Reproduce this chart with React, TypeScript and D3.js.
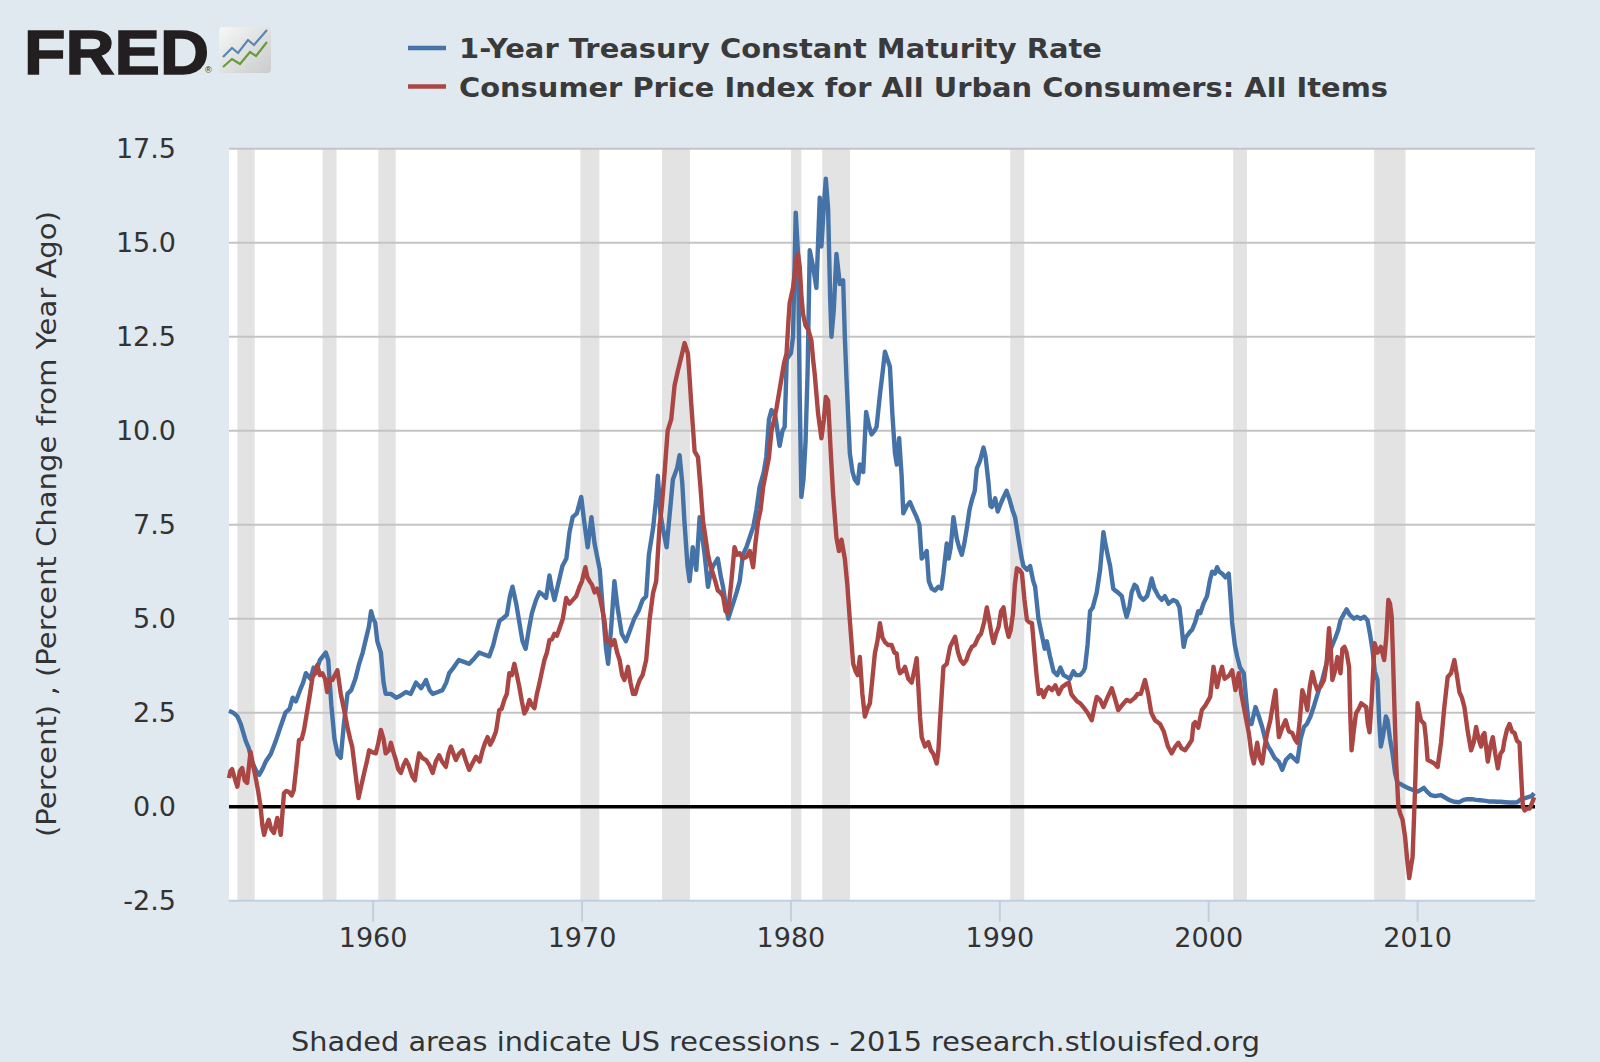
import React, { useEffect, useRef } from 'react'
import * as d3 from 'd3'

const width = 1600
const height = 1062

const legendLabels = [
    '1-Year Treasury Constant Maturity Rate',
    'Consumer Price Index for All Urban Consumers: All Items',
]
const seriesColors = ['#4572a7', '#aa4643']
const yTicks = [-2.5, 0, 2.5, 5, 7.5, 10, 12.5, 15, 17.5]
const xTicks = [1960, 1970, 1980, 1990, 2000, 2010]
const yTitle = '(Percent) , (Percent Change from Year Ago)'
const footer = 'Shaded areas indicate US recessions - 2015 research.stlouisfed.org'

// NBER recessions, decimal years
const recessions: [number, number][] = [
    [1953.5, 1954.33], [1957.58, 1958.25], [1960.25, 1961.08], [1969.92, 1970.83],
    [1973.83, 1975.17], [1980.0, 1980.5], [1981.5, 1982.83], [1990.5, 1991.17],
    [2001.17, 2001.83], [2007.92, 2009.42],
]

// 1-Year Treasury Constant Maturity Rate (percent)
const treasury: [number, number][] = [
    [1953.1, 2.55], [1953.3, 2.5], [1953.5, 2.4], [1953.66, 2.2], [1953.9, 1.75], [1954.05, 1.55], [1954.2, 1.2], [1954.4, 0.95], [1954.55, 0.85], [1954.7, 1.0], [1954.86, 1.2],
    [1955.1, 1.4], [1955.34, 1.75], [1955.55, 2.1], [1955.8, 2.5], [1956.0, 2.6], [1956.15, 2.9], [1956.3, 2.8], [1956.5, 3.1], [1956.65, 3.3], [1956.78, 3.55], [1957.0, 3.4],
    [1957.15, 3.7], [1957.25, 3.55], [1957.45, 3.9], [1957.73, 4.1], [1957.85, 3.9], [1958.0, 2.7], [1958.15, 1.8], [1958.3, 1.4], [1958.45, 1.3], [1958.6, 2.2], [1958.77, 3.0],
    [1958.95, 3.1], [1959.15, 3.4], [1959.33, 3.8], [1959.5, 4.1], [1959.65, 4.45], [1959.8, 4.8], [1959.9, 5.2], [1960.0, 5.0], [1960.1, 4.9], [1960.2, 4.4], [1960.37, 4.1],
    [1960.5, 3.3], [1960.6, 3.0], [1960.85, 3.0], [1961.1, 2.9], [1961.3, 2.95], [1961.57, 3.05], [1961.8, 3.0], [1962.05, 3.3], [1962.3, 3.15], [1962.53, 3.37], [1962.7, 3.1],
    [1962.85, 3.0], [1963.1, 3.05], [1963.32, 3.1], [1963.5, 3.3], [1963.64, 3.55], [1963.85, 3.7], [1964.1, 3.9], [1964.35, 3.85], [1964.6, 3.8], [1964.85, 3.95], [1965.08, 4.1],
    [1965.3, 4.05], [1965.56, 4.0], [1965.75, 4.3], [1965.88, 4.6], [1966.05, 4.95], [1966.2, 5.0], [1966.4, 5.1], [1966.55, 5.6], [1966.67, 5.85], [1966.85, 5.4], [1967.0, 4.9],
    [1967.15, 4.4], [1967.3, 4.2], [1967.45, 4.7], [1967.6, 5.15], [1967.8, 5.5], [1967.96, 5.7], [1968.1, 5.65], [1968.28, 5.55], [1968.44, 6.15], [1968.55, 5.8], [1968.68, 5.5],
    [1968.85, 5.9], [1969.06, 6.4], [1969.25, 6.6], [1969.4, 7.3], [1969.55, 7.7], [1969.75, 7.8], [1969.96, 8.24], [1970.1, 7.6], [1970.27, 6.9], [1970.45, 7.7], [1970.6, 7.0],
    [1970.85, 6.3], [1971.0, 5.2], [1971.15, 4.2], [1971.25, 3.8], [1971.4, 4.8], [1971.55, 6.0], [1971.7, 5.3], [1971.9, 4.6], [1972.1, 4.4], [1972.3, 4.7], [1972.5, 5.0],
    [1972.7, 5.2], [1972.9, 5.5], [1973.07, 5.6], [1973.2, 6.7], [1973.4, 7.4], [1973.55, 8.2], [1973.63, 8.8], [1973.75, 7.8], [1973.87, 7.4], [1974.05, 6.9], [1974.2, 7.8],
    [1974.35, 8.7], [1974.55, 9.0], [1974.67, 9.35], [1974.8, 8.6], [1974.9, 7.6], [1975.05, 6.4], [1975.15, 6.0], [1975.3, 6.9], [1975.47, 6.3], [1975.63, 7.7], [1975.75, 7.2],
    [1975.87, 6.7], [1976.03, 5.85], [1976.15, 6.2], [1976.27, 6.4], [1976.5, 6.6], [1976.65, 6.1], [1976.75, 5.85], [1976.9, 5.3], [1977.0, 5.0], [1977.23, 5.4], [1977.4, 5.7],
    [1977.55, 6.0], [1977.7, 6.7], [1977.87, 6.9], [1978.05, 7.2], [1978.2, 7.45], [1978.35, 7.9], [1978.5, 8.5], [1978.7, 8.9], [1978.82, 9.3], [1978.95, 10.3], [1979.07, 10.55],
    [1979.25, 10.4], [1979.46, 9.6], [1979.6, 10.0], [1979.7, 10.1], [1979.8, 11.9], [1980.0, 12.06], [1980.1, 12.5], [1980.23, 15.8], [1980.34, 14.7], [1980.42, 11.0], [1980.5, 8.24],
    [1980.6, 8.7], [1980.7, 9.7], [1980.8, 11.6], [1980.9, 14.8], [1981.06, 14.36], [1981.22, 13.8], [1981.38, 16.2], [1981.46, 14.9], [1981.58, 16.0], [1981.67, 16.7], [1981.78, 15.9],
    [1981.88, 13.5], [1981.94, 12.5], [1982.05, 13.2], [1982.18, 14.7], [1982.34, 13.9], [1982.5, 14.0], [1982.58, 12.5], [1982.66, 11.4], [1982.82, 9.4], [1982.95, 8.9], [1983.06, 8.7],
    [1983.2, 8.6], [1983.3, 9.1], [1983.46, 8.9], [1983.6, 10.5], [1983.75, 10.1], [1983.86, 9.9], [1984.0, 10.0], [1984.1, 10.1], [1984.27, 11.0], [1984.4, 11.6], [1984.5, 12.1],
    [1984.62, 11.9], [1984.74, 11.7], [1984.85, 10.5], [1984.98, 9.4], [1985.07, 9.1], [1985.18, 9.8], [1985.3, 8.8], [1985.38, 7.8], [1985.55, 8.0], [1985.7, 8.1], [1985.85, 7.9],
    [1986.02, 7.7], [1986.15, 7.5], [1986.26, 6.6], [1986.4, 6.7], [1986.5, 6.8], [1986.6, 6.0], [1986.74, 5.8], [1986.9, 5.75], [1987.06, 5.85], [1987.2, 5.8], [1987.3, 6.2],
    [1987.46, 7.0], [1987.55, 6.6], [1987.65, 6.9], [1987.78, 7.7], [1987.94, 7.13], [1988.05, 6.9], [1988.18, 6.7], [1988.3, 7.0], [1988.42, 7.4], [1988.55, 7.9], [1988.66, 8.15],
    [1988.8, 8.4], [1988.9, 9.0], [1989.05, 9.2], [1989.22, 9.55], [1989.32, 9.3], [1989.46, 8.6], [1989.55, 8.0], [1989.62, 7.97], [1989.78, 8.2], [1989.9, 7.85], [1990.0, 8.0],
    [1990.15, 8.2], [1990.32, 8.4], [1990.45, 8.2], [1990.6, 7.9], [1990.73, 7.7], [1990.9, 7.1], [1991.05, 6.6], [1991.13, 6.4], [1991.3, 6.3], [1991.45, 6.4], [1991.6, 6.0],
    [1991.69, 5.85], [1991.85, 5.0], [1992.0, 4.6], [1992.15, 4.2], [1992.25, 4.4], [1992.4, 4.0], [1992.57, 3.6], [1992.75, 3.5], [1992.9, 3.7], [1993.05, 3.5], [1993.2, 3.45],
    [1993.35, 3.4], [1993.52, 3.6], [1993.65, 3.5], [1993.84, 3.5], [1994.0, 3.6], [1994.08, 3.7], [1994.2, 4.3], [1994.32, 5.2], [1994.45, 5.3], [1994.64, 5.7], [1994.8, 6.3],
    [1994.96, 7.3], [1995.05, 7.0], [1995.2, 6.6], [1995.28, 6.4], [1995.43, 5.8], [1995.5, 5.76], [1995.65, 5.7], [1995.84, 5.6], [1995.95, 5.3], [1996.07, 5.05], [1996.2, 5.3],
    [1996.31, 5.7], [1996.45, 5.9], [1996.55, 5.85], [1996.7, 5.6], [1996.87, 5.5], [1997.05, 5.6], [1997.15, 5.8], [1997.27, 6.07], [1997.4, 5.8], [1997.5, 5.7], [1997.59, 5.6],
    [1997.75, 5.5], [1997.9, 5.6], [1998.08, 5.4], [1998.3, 5.5], [1998.47, 5.45], [1998.6, 5.3], [1998.7, 4.8], [1998.8, 4.25], [1998.9, 4.5], [1999.1, 4.65], [1999.2, 4.7],
    [1999.35, 4.9], [1999.5, 5.2], [1999.6, 5.15], [1999.75, 5.4], [1999.92, 5.6], [2000.05, 6.0], [2000.16, 6.25], [2000.3, 6.2], [2000.4, 6.37], [2000.5, 6.25], [2000.64, 6.2],
    [2000.8, 6.1], [2000.96, 6.2], [2001.05, 5.5], [2001.12, 4.9], [2001.25, 4.3], [2001.36, 4.0], [2001.5, 3.7], [2001.68, 3.55], [2001.8, 2.8], [2001.92, 2.2], [2002.05, 2.2],
    [2002.24, 2.65], [2002.4, 2.4], [2002.56, 2.12], [2002.7, 1.8], [2002.85, 1.6], [2002.96, 1.5], [2003.15, 1.3], [2003.35, 1.2], [2003.52, 0.98], [2003.7, 1.25], [2003.92, 1.37],
    [2004.05, 1.3], [2004.24, 1.2], [2004.4, 1.8], [2004.56, 2.12], [2004.7, 2.2], [2004.87, 2.4], [2005.05, 2.7], [2005.27, 3.1], [2005.45, 3.4], [2005.68, 3.9], [2005.85, 4.2],
    [2006.07, 4.5], [2006.2, 4.7], [2006.31, 4.96], [2006.45, 5.1], [2006.6, 5.25], [2006.75, 5.1], [2006.95, 5.0], [2007.1, 5.05], [2007.27, 5.0], [2007.45, 5.05], [2007.6, 4.96],
    [2007.72, 4.6], [2007.84, 4.17], [2007.95, 3.6], [2008.08, 3.37], [2008.16, 2.3], [2008.24, 1.6], [2008.35, 1.9], [2008.48, 2.4], [2008.56, 2.3], [2008.68, 1.8], [2008.8, 1.42],
    [2008.92, 0.9], [2009.04, 0.63], [2009.2, 0.6], [2009.35, 0.55], [2009.52, 0.5], [2009.75, 0.45], [2010.0, 0.4], [2010.15, 0.45], [2010.3, 0.5], [2010.45, 0.4], [2010.63, 0.31],
    [2010.85, 0.28], [2011.1, 0.31], [2011.3, 0.25], [2011.5, 0.18], [2011.74, 0.13], [2012.0, 0.12], [2012.2, 0.18], [2012.38, 0.2], [2012.6, 0.2], [2012.8, 0.18], [2013.0, 0.17],
    [2013.18, 0.16], [2013.4, 0.14], [2013.6, 0.14], [2013.8, 0.13], [2013.98, 0.13], [2014.2, 0.12], [2014.4, 0.11], [2014.6, 0.11], [2014.78, 0.12], [2014.95, 0.2], [2015.1, 0.22],
    [2015.26, 0.25], [2015.45, 0.28], [2015.58, 0.36],
]

// CPI all items, percent change from year ago
const cpi: [number, number][] = [
    [1953.1, 0.76], [1953.17, 0.95], [1953.25, 1.0], [1953.35, 0.8], [1953.5, 0.53], [1953.62, 0.95], [1953.73, 1.03], [1953.85, 0.7], [1953.97, 0.63], [1954.13, 1.46], [1954.25, 1.1],
    [1954.37, 0.79], [1954.5, 0.4], [1954.61, 0.0], [1954.7, -0.5], [1954.78, -0.75], [1954.9, -0.5], [1955.0, -0.35], [1955.12, -0.6], [1955.25, -0.7], [1955.41, -0.3], [1955.5, -0.5],
    [1955.58, -0.75], [1955.73, 0.36], [1955.85, 0.42], [1955.97, 0.39], [1956.1, 0.3], [1956.2, 0.44], [1956.35, 1.2], [1956.45, 1.77], [1956.58, 1.8], [1956.69, 2.04], [1956.85, 2.57],
    [1956.95, 2.9], [1957.1, 3.45], [1957.22, 3.55], [1957.33, 3.77], [1957.45, 3.5], [1957.57, 3.55], [1957.7, 3.4], [1957.8, 3.05], [1957.92, 3.4], [1958.05, 3.37], [1958.17, 3.5],
    [1958.29, 3.63], [1958.45, 3.0], [1958.6, 2.6], [1958.77, 2.12], [1958.9, 1.8], [1959.0, 1.59], [1959.15, 0.9], [1959.3, 0.23], [1959.45, 0.6], [1959.57, 0.9], [1959.7, 1.2],
    [1959.81, 1.5], [1959.95, 1.45], [1960.13, 1.42], [1960.25, 1.7], [1960.37, 2.04], [1960.5, 1.8], [1960.6, 1.42], [1960.75, 1.5], [1960.85, 1.7], [1960.97, 1.45], [1961.09, 1.24],
    [1961.2, 1.0], [1961.33, 0.9], [1961.45, 1.1], [1961.57, 1.24], [1961.7, 1.1], [1961.88, 0.8], [1962.0, 0.7], [1962.1, 1.1], [1962.2, 1.42], [1962.35, 1.3], [1962.53, 1.24],
    [1962.7, 1.1], [1962.85, 0.9], [1963.0, 1.2], [1963.16, 1.37], [1963.3, 1.2], [1963.48, 1.06], [1963.6, 1.4], [1963.72, 1.6], [1963.85, 1.4], [1963.96, 1.24], [1964.1, 1.4],
    [1964.28, 1.5], [1964.45, 1.2], [1964.6, 0.98], [1964.75, 1.15], [1964.92, 1.33], [1965.1, 1.2], [1965.24, 1.5], [1965.36, 1.7], [1965.48, 1.85], [1965.6, 1.65], [1965.72, 1.77],
    [1965.88, 2.0], [1966.04, 2.57], [1966.15, 2.6], [1966.28, 2.84], [1966.4, 3.0], [1966.52, 3.55], [1966.64, 3.5], [1966.76, 3.8], [1966.88, 3.5], [1967.0, 3.18], [1967.12, 2.8],
    [1967.24, 2.48], [1967.36, 2.6], [1967.48, 2.84], [1967.6, 2.7], [1967.72, 2.62], [1967.84, 3.0], [1967.96, 3.28], [1968.08, 3.6], [1968.2, 3.9], [1968.32, 4.1], [1968.44, 4.43],
    [1968.56, 4.45], [1968.68, 4.6], [1968.8, 4.55], [1968.92, 4.74], [1969.08, 5.0], [1969.24, 5.55], [1969.4, 5.4], [1969.56, 5.5], [1969.72, 5.6], [1969.88, 5.85], [1970.0, 6.0],
    [1970.16, 6.37], [1970.26, 6.1], [1970.36, 6.0], [1970.48, 5.9], [1970.6, 5.7], [1970.72, 5.8], [1970.85, 5.57], [1970.95, 5.3], [1971.07, 4.96], [1971.18, 4.4], [1971.3, 4.43],
    [1971.42, 4.3], [1971.55, 4.43], [1971.68, 4.1], [1971.8, 3.9], [1971.92, 3.5], [1972.03, 3.37], [1972.1, 3.5], [1972.2, 3.72], [1972.32, 3.3], [1972.44, 3.0], [1972.55, 3.0],
    [1972.65, 3.2], [1972.76, 3.37], [1972.9, 3.5], [1973.07, 3.9], [1973.23, 4.96], [1973.4, 5.68], [1973.55, 6.0], [1973.71, 7.45], [1973.82, 8.0], [1973.95, 8.87], [1974.1, 10.0],
    [1974.27, 10.3], [1974.43, 11.2], [1974.59, 11.6], [1974.75, 11.96], [1974.91, 12.33], [1975.07, 12.05], [1975.15, 11.4], [1975.23, 10.7], [1975.39, 9.45], [1975.55, 9.3], [1975.67, 8.5],
    [1975.79, 7.6], [1975.9, 7.2], [1976.03, 6.7], [1976.15, 6.4], [1976.27, 6.2], [1976.38, 6.0], [1976.5, 5.75], [1976.62, 5.7], [1976.75, 5.6], [1976.87, 5.2], [1976.99, 5.15],
    [1977.15, 6.0], [1977.3, 6.9], [1977.42, 6.7], [1977.55, 6.74], [1977.7, 6.6], [1977.87, 6.64], [1978.03, 6.8], [1978.19, 6.37], [1978.3, 7.0], [1978.43, 7.6], [1978.55, 7.9],
    [1978.67, 8.5], [1978.83, 8.95], [1978.95, 9.3], [1979.07, 10.0], [1979.2, 10.3], [1979.31, 10.6], [1979.43, 11.0], [1979.55, 11.4], [1979.67, 11.8], [1979.79, 12.05], [1979.88, 12.9],
    [1979.94, 13.4], [1980.1, 13.8], [1980.26, 14.55], [1980.34, 14.7], [1980.42, 14.36], [1980.5, 13.6], [1980.58, 13.1], [1980.7, 12.8], [1980.82, 12.7], [1980.98, 12.4], [1981.06, 11.9],
    [1981.14, 11.5], [1981.3, 10.46], [1981.46, 9.8], [1981.58, 10.3], [1981.67, 10.9], [1981.78, 10.8], [1981.9, 9.5], [1982.02, 8.3], [1982.18, 7.15], [1982.3, 6.8], [1982.42, 7.1],
    [1982.58, 6.6], [1982.7, 5.9], [1982.82, 4.96], [1982.98, 3.8], [1983.1, 3.6], [1983.2, 3.5], [1983.3, 3.98], [1983.42, 3.0], [1983.54, 2.4], [1983.66, 2.6], [1983.78, 2.75],
    [1983.9, 3.4], [1984.02, 4.08], [1984.14, 4.4], [1984.26, 4.88], [1984.38, 4.5], [1984.5, 4.38], [1984.66, 4.3], [1984.82, 4.3], [1984.95, 4.1], [1985.06, 4.08], [1985.14, 3.7],
    [1985.22, 3.55], [1985.34, 3.6], [1985.46, 3.72], [1985.62, 3.4], [1985.78, 3.3], [1985.9, 3.6], [1986.02, 3.95], [1986.1, 3.2], [1986.18, 2.4], [1986.26, 1.85], [1986.42, 1.6],
    [1986.58, 1.72], [1986.7, 1.5], [1986.82, 1.4], [1986.98, 1.15], [1987.06, 1.5], [1987.14, 2.3], [1987.3, 3.72], [1987.46, 3.8], [1987.62, 4.25], [1987.75, 4.4], [1987.86, 4.52],
    [1988.0, 4.1], [1988.12, 3.9], [1988.26, 3.8], [1988.4, 3.9], [1988.52, 4.1], [1988.66, 4.25], [1988.8, 4.3], [1988.98, 4.52], [1989.1, 4.6], [1989.25, 4.9], [1989.38, 5.3],
    [1989.48, 5.0], [1989.6, 4.6], [1989.7, 4.35], [1989.82, 4.6], [1989.94, 4.78], [1990.06, 5.2], [1990.18, 5.3], [1990.3, 4.8], [1990.42, 4.52], [1990.52, 4.7], [1990.63, 5.13],
    [1990.72, 5.9], [1990.82, 6.34], [1990.94, 6.3], [1991.06, 6.2], [1991.18, 5.5], [1991.3, 4.96], [1991.42, 4.9], [1991.54, 4.88], [1991.66, 4.1], [1991.76, 3.5], [1991.86, 3.0],
    [1991.98, 3.1], [1992.1, 2.92], [1992.22, 3.1], [1992.34, 3.18], [1992.5, 3.1], [1992.66, 3.23], [1992.82, 3.0], [1992.98, 3.18], [1993.15, 3.25], [1993.3, 3.3], [1993.42, 3.0],
    [1993.52, 2.92], [1993.7, 2.8], [1993.85, 2.75], [1994.0, 2.65], [1994.2, 2.5], [1994.4, 2.3], [1994.55, 2.7], [1994.64, 2.92], [1994.8, 2.84], [1994.96, 2.65], [1995.15, 2.9],
    [1995.36, 3.15], [1995.5, 2.9], [1995.67, 2.57], [1995.85, 2.7], [1996.07, 2.84], [1996.25, 2.8], [1996.47, 2.9], [1996.6, 3.0], [1996.75, 3.0], [1996.95, 3.37], [1997.1, 3.0],
    [1997.25, 2.5], [1997.43, 2.3], [1997.67, 2.2], [1997.85, 2.0], [1998.05, 1.6], [1998.23, 1.42], [1998.4, 1.6], [1998.55, 1.7], [1998.7, 1.55], [1998.87, 1.5], [1999.05, 1.65],
    [1999.19, 1.77], [1999.27, 2.2], [1999.35, 2.25], [1999.5, 2.1], [1999.67, 2.57], [1999.85, 2.7], [2000.07, 2.92], [2000.23, 3.72], [2000.4, 3.18], [2000.52, 3.5], [2000.64, 3.72],
    [2000.76, 3.4], [2000.88, 3.45], [2001.0, 3.5], [2001.12, 3.63], [2001.28, 3.1], [2001.44, 3.55], [2001.56, 3.0], [2001.68, 2.65], [2001.8, 2.3], [2001.92, 1.96], [2002.05, 1.4],
    [2002.16, 1.15], [2002.32, 1.7], [2002.44, 1.3], [2002.56, 1.15], [2002.68, 1.6], [2002.8, 1.96], [2002.95, 2.3], [2003.1, 2.8], [2003.2, 3.1], [2003.28, 2.4], [2003.36, 1.85],
    [2003.52, 2.1], [2003.68, 2.3], [2003.84, 2.0], [2004.0, 1.96], [2004.12, 1.8], [2004.24, 1.7], [2004.36, 2.3], [2004.48, 3.1], [2004.6, 2.9], [2004.72, 2.57], [2004.84, 3.2],
    [2004.96, 3.58], [2005.08, 3.3], [2005.2, 3.1], [2005.36, 3.2], [2005.52, 3.37], [2005.64, 3.8], [2005.76, 4.75], [2005.84, 4.2], [2005.92, 3.37], [2006.04, 3.6], [2006.16, 3.98],
    [2006.31, 3.55], [2006.4, 4.2], [2006.5, 4.25], [2006.6, 4.1], [2006.72, 3.72], [2006.78, 2.4], [2006.84, 1.5], [2006.94, 2.0], [2007.05, 2.48], [2007.18, 2.6], [2007.3, 2.75],
    [2007.42, 2.7], [2007.54, 2.65], [2007.62, 2.2], [2007.7, 1.98], [2007.8, 2.8], [2007.94, 4.35], [2008.08, 4.1], [2008.24, 4.25], [2008.4, 3.9], [2008.5, 4.5], [2008.6, 5.5],
    [2008.68, 5.4], [2008.76, 5.05], [2008.82, 4.0], [2008.89, 2.65], [2008.98, 1.1], [2009.08, 0.0], [2009.18, -0.2], [2009.28, -0.35], [2009.4, -0.8], [2009.5, -1.4], [2009.6, -1.9],
    [2009.68, -1.6], [2009.76, -1.34], [2009.88, 0.5], [2010.0, 2.75], [2010.08, 2.5], [2010.16, 2.3], [2010.32, 2.2], [2010.4, 1.8], [2010.48, 1.24], [2010.64, 1.2], [2010.8, 1.15],
    [2010.96, 1.06], [2011.12, 1.7], [2011.28, 2.65], [2011.44, 3.45], [2011.6, 3.55], [2011.76, 3.9], [2011.88, 3.5], [2012.0, 3.05], [2012.12, 2.9], [2012.24, 2.65], [2012.4, 2.0],
    [2012.56, 1.5], [2012.68, 1.7], [2012.8, 2.12], [2012.92, 1.8], [2013.04, 1.6], [2013.12, 1.9], [2013.2, 1.96], [2013.36, 1.2], [2013.48, 1.6], [2013.6, 1.85], [2013.72, 1.4],
    [2013.84, 1.02], [2013.96, 1.4], [2014.08, 1.5], [2014.16, 1.77], [2014.28, 2.05], [2014.4, 2.2], [2014.52, 2.0], [2014.64, 1.96], [2014.76, 1.75], [2014.88, 1.7], [2014.96, 0.8],
    [2015.04, 0.0], [2015.12, -0.1], [2015.24, -0.05], [2015.36, -0.05], [2015.48, 0.1], [2015.58, 0.25],
]

const font = "'DejaVu Sans', Verdana, sans-serif"
const textColor = '#333333'

export default function App() {
    const ref = useRef<SVGSVGElement>(null)

    useEffect(() => {
        const svg = d3.select(ref.current)
        svg.selectAll('*').remove()

        const left = 229, right = 1535, top = 148.7, bottom = 900.7

        const x = d3.scaleLinear().domain([1953.1, 2015.62]).range([left, right])
        const y = d3.scaleLinear().domain([-2.5, 17.5]).range([bottom, top])

        svg.append('rect').attr('width', width).attr('height', height).attr('fill', '#e1e9f0')

        // --- FRED logo ---
        svg.append('text')
            .attr('x', 24).attr('y', 73.5)
            .attr('textLength', 185).attr('lengthAdjust', 'spacingAndGlyphs')
            .style('font-family', "'Liberation Sans', Arial, sans-serif")
            .style('font-weight', 900).style('font-size', '63px')
            .attr('fill', '#231f20')
            .attr('stroke', '#231f20').attr('stroke-width', 1.5)
            .text('FRED')
        svg.append('text')
            .attr('x', 205).attr('y', 73).style('font-family', "'Liberation Sans', Arial, sans-serif")
            .style('font-size', '9px').attr('fill', '#231f20').text('®')

        const defs = svg.append('defs')
        const grad = defs.append('linearGradient').attr('id', 'icon-grad')
            .attr('x1', 0).attr('y1', 0).attr('x2', 1).attr('y2', 1)
        grad.append('stop').attr('offset', '0%').attr('stop-color', '#f7f7f7')
        grad.append('stop').attr('offset', '100%').attr('stop-color', '#c9cbcc')
        const icon = svg.append('g').attr('transform', 'translate(219,27)')
        icon.append('rect').attr('width', 52).attr('height', 46).attr('rx', 4).attr('fill', 'url(#icon-grad)')
        icon.append('polyline').attr('points', '4,30 13,21 19,26 29,13 35,18 48,3')
            .attr('fill', 'none').attr('stroke', '#5b86b3').attr('stroke-width', 2.2)
        icon.append('polyline').attr('points', '4,40 13,32 21,37 31,25 37,29 48,15')
            .attr('fill', 'none').attr('stroke', '#6a9a3e').attr('stroke-width', 2.2)

        // --- legend ---
        const legend = svg.append('g')
        legendLabels.forEach((label, i) => {
            const ly = 48 + i * 38.5
            legend.append('line')
                .attr('x1', 408).attr('x2', 446).attr('y1', ly).attr('y2', ly)
                .attr('stroke', seriesColors[i]).attr('stroke-width', 4.5)
            legend.append('text')
                .attr('x', 459).attr('y', ly + 10)
                .attr('textLength', i === 0 ? 643 : 929).attr('lengthAdjust', 'spacingAndGlyphs')
                .style('font-family', font).style('font-weight', 'bold').style('font-size', '27px')
                .attr('fill', '#3a3a3a')
                .text(label)
        })

        // --- plot area ---
        svg.append('rect')
            .attr('x', left).attr('y', top).attr('width', right - left).attr('height', bottom - top)
            .attr('fill', '#ffffff')

        svg.append('g').selectAll('rect')
            .data(recessions)
            .enter().append('rect')
            .attr('x', d => x(d[0]))
            .attr('width', d => x(d[1]) - x(d[0]))
            .attr('y', top).attr('height', bottom - top)
            .attr('fill', '#e3e3e3')

        svg.append('g').selectAll('line')
            .data(yTicks.filter(t => t > -2.5))
            .enter().append('line')
            .attr('x1', left).attr('x2', right)
            .attr('y1', d => y(d)).attr('y2', d => y(d))
            .attr('stroke', '#c4c4c4').attr('stroke-width', 2)

        // x axis
        svg.append('line')
            .attr('x1', left).attr('x2', right).attr('y1', bottom).attr('y2', bottom)
            .attr('stroke', '#c0d0e0').attr('stroke-width', 2)
        const xAxis = svg.append('g')
        xAxis.selectAll('line')
            .data(xTicks)
            .enter().append('line')
            .attr('x1', d => x(d)).attr('x2', d => x(d))
            .attr('y1', bottom).attr('y2', bottom + 21)
            .attr('stroke', '#c0d0e0').attr('stroke-width', 2)
        xAxis.selectAll('text')
            .data(xTicks)
            .enter().append('text')
            .attr('x', d => x(d)).attr('y', 947)
            .attr('text-anchor', 'middle')
            .style('font-family', font).style('font-size', '27px')
            .attr('fill', textColor)
            .text(d => String(d))

        // y axis labels (plain hyphen for negatives, as in the original)
        const fmt = d3.format('.1f')
        svg.append('g').selectAll('text')
            .data(yTicks)
            .enter().append('text')
            .attr('x', 176).attr('y', d => y(d))
            .attr('dy', '0.35em')
            .attr('text-anchor', 'end')
            .style('font-family', font).style('font-size', '27px')
            .attr('fill', textColor)
            .text(d => fmt(d).replace('\u2212', '-'))

        svg.append('text')
            .attr('transform', 'translate(56,524) rotate(-90)')
            .attr('text-anchor', 'middle')
            .attr('textLength', 626).attr('lengthAdjust', 'spacingAndGlyphs')
            .style('font-family', font).style('font-size', '26px')
            .attr('fill', textColor)
            .text(yTitle)

        // zero line
        svg.append('line')
            .attr('x1', left).attr('x2', right).attr('y1', y(0)).attr('y2', y(0))
            .attr('stroke', '#000000').attr('stroke-width', 3.5)

        // series
        const line = d3.line<[number, number]>()
            .x(d => x(d[0]))
            .y(d => y(d[1]))
        ;[treasury, cpi].forEach((series, i) => {
            svg.append('path')
                .datum(series)
                .attr('d', line)
                .attr('fill', 'none')
                .attr('stroke', seriesColors[i])
                .attr('stroke-width', 4.4)
                .attr('stroke-linejoin', 'round')
        })

        // footer
        svg.append('text')
            .attr('x', 775.5).attr('y', 1051)
            .attr('text-anchor', 'middle')
            .attr('textLength', 969).attr('lengthAdjust', 'spacingAndGlyphs')
            .style('font-family', font).style('font-size', '27px')
            .attr('fill', textColor)
            .text(footer)
    }, [])

    return (
        <svg ref={ref} width={width} height={height}
            style={{ position: 'absolute', left: 0, top: 0, display: 'block' }} />
    )
}
